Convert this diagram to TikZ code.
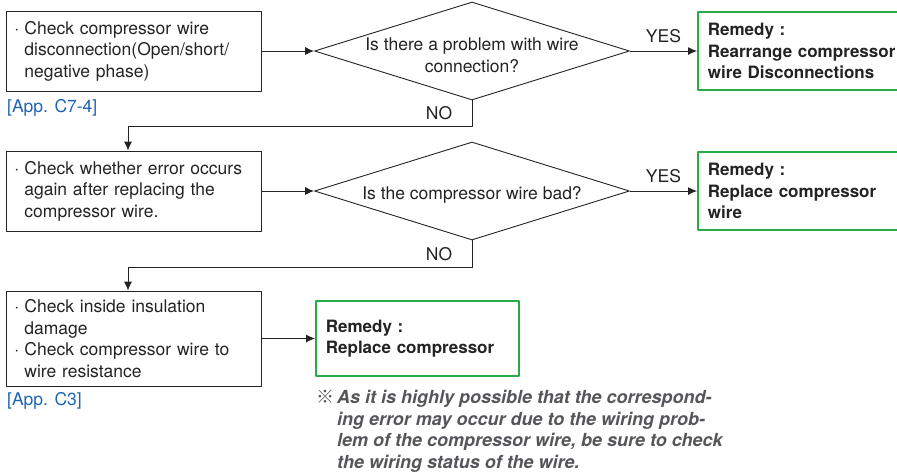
\documentclass[tikz,border=0pt]{standalone}
\usepackage{fontspec}
\setmainfont{TeX Gyre Heros}
\newfontfamily\cjkmark{Noto Sans CJK JP}
\usetikzlibrary{shapes.geometric,arrows.meta}
\definecolor{ink}{RGB}{35,35,35}
\definecolor{appblue}{RGB}{30,100,180}
\definecolor{remgreen}{RGB}{40,170,75}
\definecolor{notegray}{RGB}{85,85,90}
\newcommand{\bul}{\makebox[10pt][l]{\textperiodcentered}}
\newcommand{\ind}{\hspace*{10pt}}
\begin{document}
\begin{tikzpicture}[x=1pt, y=-1pt, font=\fontsize{17.5}{21.5}\selectfont, line join=round, >={Latex[length=9pt,width=8pt]},
	chkbox/.style={draw=ink, line width=0.9pt, text=ink, anchor=west, minimum height=80pt, text width=239pt, inner xsep=8pt, align=left},
	decision/.style={draw=ink, line width=0.9pt, diamond, minimum width=315pt, minimum height=98pt, inner sep=0pt},
	remedy/.style={draw=remgreen, line width=1.8pt, text=ink, anchor=west, minimum height=78pt, inner xsep=10pt, align=left, font=\fontsize{17}{21.5}\selectfont\bfseries},
	appref/.style={text=appblue, anchor=base west, inner sep=0pt},
	yeslabel/.style={above=4pt, text=ink},
	nolabel/.style={left=16pt, text=ink}]
	\def\xl{6}
	\def\xd{472}
	\def\xr{697}
	\def\ya{51}
	\def\yb{191}
	\def\yc{338.5}
	\useasboundingbox (0,0) rectangle (897,475);
	\node[chkbox] (b1) at (\xl,\ya) {\bul Check compressor wire\\ \ind disconnection(Open/short/\\ \ind negative phase)};
	\node[chkbox] (b2) at (\xl,\yb) {\bul Check whether error occurs\\ \ind again after replacing the\\ \ind compressor wire.};
	\node[chkbox, minimum height=95pt] (b3) at (\xl,\yc) {\bul Check inside insulation\\ \ind damage\\ \bul Check compressor wire to\\ \ind wire resistance};
	\node[appref] (ref1) at (7,112) {[App. C7-4]};
	\node[appref] (ref2) at (7,405) {[App. C3]};
	\node[decision] (d1) at (\xd,\ya) {};
	\node[text=ink, align=center] (q1) at (\xd,55) {Is there a problem with wire\\connection?};
	\node[decision] (d2) at (\xd,\yb) {};
	\node[text=ink] (q2) at (\xd,195) {Is the compressor wire bad?};
	\node[remedy, text width=200pt] (r1) at (\xr,\ya) {Remedy :\\Rearrange compressor\\wire Disconnections};
	\node[remedy, text width=200pt] (r2) at (\xr,\yb) {Remedy :\\Replace compressor\\wire};
	\node[remedy, text width=183pt, minimum height=75pt] (r3) at (315,\yc) {Remedy :\\Replace compressor};
	\node[text=notegray, anchor=north west, inner sep=0pt, align=left, font=\fontsize{18}{21.7}\selectfont\bfseries\itshape] (note) at (316,390) {\makebox[21pt][l]{\cjkmark\upshape\mdseries ※}As it is highly possible that the correspond-\\ \hspace*{21pt}ing error may occur due to the wiring prob-\\ \hspace*{21pt}lem of the compressor wire, be sure to check\\ \hspace*{21pt}the wiring status of the wire.};
	\coordinate (n1) at (128,126);
	\coordinate (n2) at (128,267);
	\draw[->, line width=0.9pt, ink] (b1) -- (d1);
	\draw[->, line width=0.9pt, ink] (b2) -- (d2);
	\draw[->, line width=0.9pt, ink] (b3) -- (r3);
	\draw[->, line width=0.9pt, ink] (d1) -- node[yeslabel]{YES} (r1);
	\draw[->, line width=0.9pt, ink] (d2) -- node[yeslabel]{YES} (r2);
	\draw[->, line width=0.9pt, ink] (d1.south) -- node[nolabel]{NO} (d1.south |- n1) -- (n1) -- (n1 |- b2.north);
	\draw[->, line width=0.9pt, ink] (d2.south) -- node[nolabel]{NO} (d2.south |- n2) -- (n2) -- (n2 |- b3.north);
\end{tikzpicture}
\end{document}
